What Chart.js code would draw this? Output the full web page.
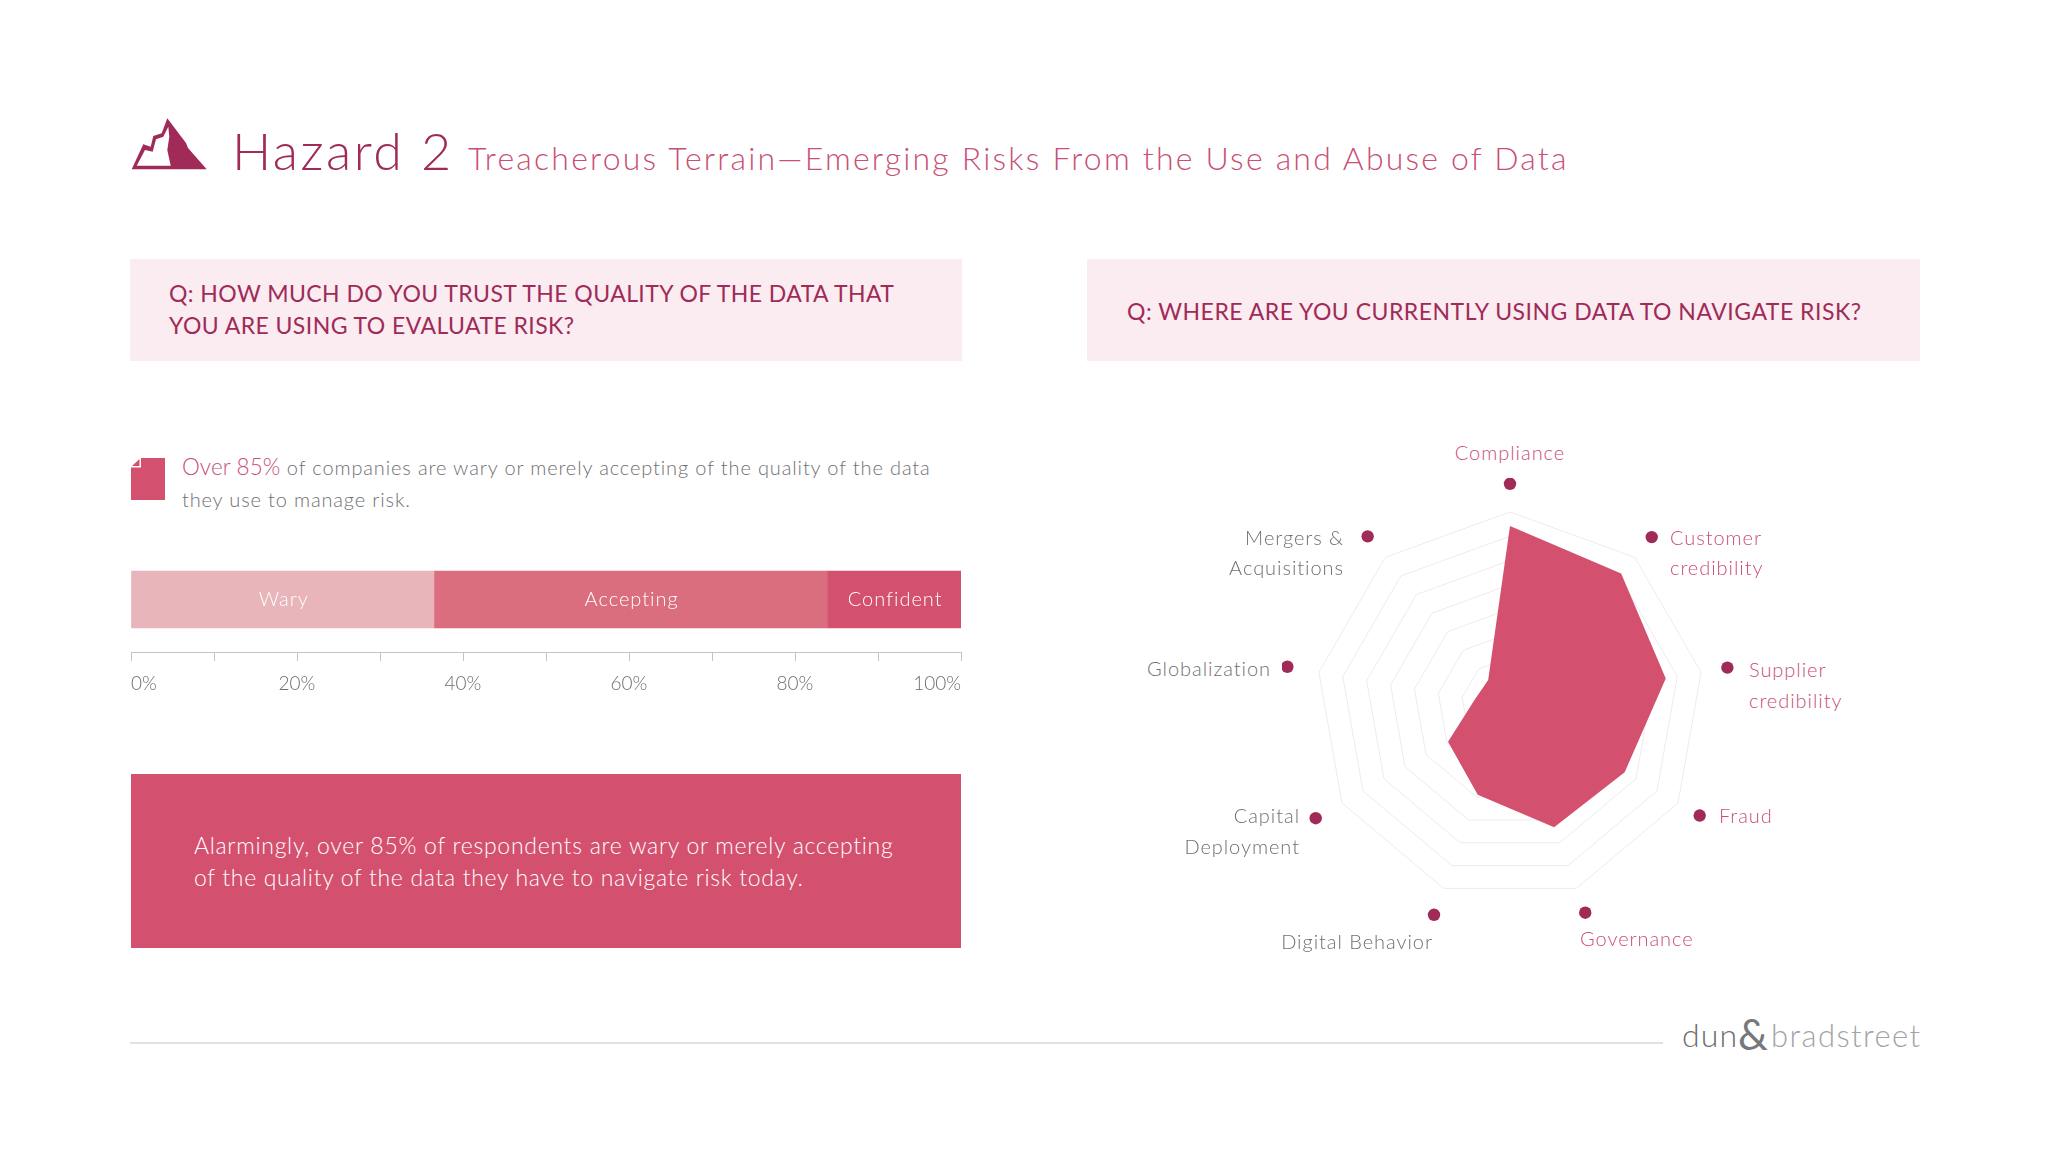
<!DOCTYPE html>
<html><head><meta charset="utf-8">
<script src="https://cdn.jsdelivr.net/npm/chart.js@4/dist/chart.umd.min.js"></script>
<style>
html,body{margin:0;padding:0;background:#fff;width:2048px;height:1152px;overflow:hidden;font-family:Lato,sans-serif}
.t{position:absolute;white-space:nowrap;line-height:1}
canvas{position:absolute}
.box{position:absolute}
</style></head><body>
<svg class="box" style="left:0;top:0" width="2048" height="1152">
<path fill-rule="evenodd" d="M131.700 169.300 L143.300 144.300 L150.700 146.700 L153.300 136 L161.700 133.300 L167.300 118.300 L186 143 L188 148 L206.700 169.300 Z M136.700 165.700 L170.700 165.700 L167.300 150 L169.300 136.700 L168.300 126.700 L163.300 136.700 L156 139.300 L152.700 151.700 L145 150 Z" fill="#a02a58"/>
<path d="M141 458 L165 458 L165 500 L131 500 L131 467.500 L141 467.500 Z" fill="#d4506f"/>
<path d="M132 466 L139.500 459 L139.500 466 Z" fill="#d4506f"/>
</svg>
<div class="t" style="left:232px;top:124px;font-size:52px;font-weight:300;color:#a02a58;letter-spacing:2.5px">Hazard 2</div>
<div class="t" style="left:468px;top:142px;font-size:32px;font-weight:300;color:#c94f75;letter-spacing:2.2px">Treacherous Terrain—Emerging Risks From the Use and Abuse of Data</div>

<div class="box" style="left:130px;top:259px;width:832px;height:102px;background:#faecf0"></div>
<div class="box" style="left:1087px;top:259px;width:833px;height:102px;background:#faecf0"></div>
<div class="t" style="left:169px;top:282px;font-size:23px;color:#a02a58;letter-spacing:.43px">Q: HOW MUCH DO YOU TRUST THE QUALITY OF THE DATA THAT</div>
<div class="t" style="left:169px;top:314px;font-size:23px;color:#a02a58;letter-spacing:.43px">YOU ARE USING TO EVALUATE RISK?</div>
<div class="t" style="left:1127px;top:300px;font-size:23px;color:#a02a58;letter-spacing:.5px">Q: WHERE ARE YOU CURRENTLY USING DATA TO NAVIGATE RISK?</div>

<div class="t" style="left:182px;top:456px;font-size:20px;font-weight:300;color:#6f6f74;letter-spacing:.87px"><span style="font-size:22.5px;color:#c94f75;letter-spacing:.1px">Over 85%</span> of companies are wary or merely accepting of the quality of the data</div>
<div class="t" style="left:182px;top:489px;font-size:20px;font-weight:300;color:#6f6f74;letter-spacing:.85px">they use to manage risk.</div>

<canvas id="bar" width="852" height="170" style="left:120px;top:540px;width:852px;height:170px"></canvas>

<div class="box" style="left:131px;top:774px;width:830px;height:174px;background:#d4506f"></div>
<div class="t" style="left:194px;top:834px;font-size:23px;font-weight:300;color:#fff;letter-spacing:.72px">Alarmingly, over 85% of respondents are wary or merely accepting</div>
<div class="t" style="left:194px;top:866px;font-size:23px;font-weight:300;color:#fff;letter-spacing:.66px">of the quality of the data they have to navigate risk today.</div>

<canvas id="radar" width="456" height="456" style="left:1282px;top:478px;width:456px;height:456px"></canvas>
<div id="labels"></div>

<div class="box" style="left:130px;top:1042px;width:1533px;height:2px;background:#e2e2e4"></div>
<div class="t" style="left:1682px;top:1019px;font-size:32px;font-weight:300;color:#6d6d72;letter-spacing:1.2px">dun</div>
<div class="t" style="left:1738px;top:1013px;font-size:42px;font-weight:400;color:#77777c">&amp;</div>
<div class="t" style="left:1771px;top:1020px;font-size:31px;font-weight:300;color:#a3a3a8;letter-spacing:1.4px">bradstreet</div>

<script>
// Stacked bar
const trustCategories = ['Wary', 'Accepting', 'Confident'];
const trustValues = [36.5, 47.4, 16.1];
const trustColors = ['#e8b5ba', '#da6e7e', '#d4506f'];
const trustRow = ['Trust'];

// Radar
const radarCategories = ['Compliance','Customer credibility','Supplier credibility','Fraud','Governance','Digital Behavior','Capital Deployment','Globalization','Mergers & Acquisitions'];
const radarValues = [7.42, 7.13, 6.52, 5.46, 5.32, 3.89, 2.95, 1.48, 1.40];
const radarMarkers = [9.16, 9.09, 9.1, 9.03, 9.07, 9.16, 9.25, 9.32, 9.13];
const radarRingMax = 8;

// Label layout: [lines, anchor, x, first-line centre y, colour, second-line centre y]
const PINK = '#c94f75', GREY = '#6f6f74';
const labelLayout = [
  [['Compliance'], 'c', 1510, 452, PINK],
  [['Customer','credibility'], 'l', 1670, 537, PINK, 567],
  [['Supplier','credibility'], 'l', 1749, 669, PINK, 700],
  [['Fraud'], 'l', 1719, 815, PINK],
  [['Governance'], 'l', 1580, 938, PINK],
  [['Digital Behavior'], 'r', 1433, 941, GREY],
  [['Capital','Deployment'], 'r', 1300, 815, GREY, 846],
  [['Globalization'], 'r', 1271, 668, GREY],
  [['Mergers &','Acquisitions'], 'r', 1344, 537, GREY, 567]
];
const host = document.getElementById('labels');
labelLayout.forEach(([lines, a, x, y, col, y2]) => {
  lines.forEach((s, i) => {
    const d = document.createElement('div');
    d.className = 't';
    d.textContent = s;
    d.style.fontSize = '20px';
    d.style.fontWeight = '300';
    d.style.letterSpacing = '.95px';
    d.style.color = col;
    d.style.top = ((i ? y2 : y) - 10) + 'px';
    if (a === 'l') d.style.left = x + 'px';
    if (a === 'r') d.style.right = (2048 - x) + 'px';
    if (a === 'c') { d.style.left = x + 'px'; d.style.transform = 'translateX(-50%)'; }
    host.appendChild(d);
  });
});

const barLabels = {
  id: 'barLabels',
  afterDatasetsDraw(chart) {
    const c = chart.ctx;
    c.save();
    c.font = '300 20px Lato';
    c.letterSpacing = '1px';
    c.fillStyle = '#fff';
    c.textAlign = 'center';
    c.textBaseline = 'middle';
    chart.data.datasets.forEach((ds, i) => {
      const b = chart.getDatasetMeta(i).data[0];
      c.fillText(ds.label, (b.base + b.x) / 2 + 1, b.y);
    });
    c.restore();
  }
};

new Chart(document.getElementById('bar'), {
  type: 'bar',
  data: {
    labels: trustRow,
    datasets: trustCategories.map((n, i) => ({
      label: n, data: [trustValues[i]], backgroundColor: trustColors[i],
      barThickness: 57, borderWidth: 0
    }))
  },
  options: {
    indexAxis: 'y', responsive: false, animation: false, devicePixelRatio: 1,
    layout: { padding: { left: 11, right: 10, top: 7, bottom: 0 } },
    plugins: { legend: { display: false }, tooltip: { enabled: false } },
    scales: {
      y: { stacked: true, display: false },
      x: {
        stacked: true, min: 0, max: 100,
        afterFit(s) { s.height = 58; },
        border: { color: '#c4c4c8', width: 1 },
        grid: { drawOnChartArea: false, drawTicks: true, tickLength: 9, color: '#c4c4c8' },
        ticks: {
          stepSize: 10, autoSkip: false, maxRotation: 0, align: 'inner', padding: 11,
          color: '#6f6f74', font: { family: 'Lato', size: 19, weight: '300' },
          callback: v => v % 20 === 0 ? v + '%' : ''
        }
      }
    }
  },
  plugins: [barLabels]
});

new Chart(document.getElementById('radar'), {
  type: 'radar',
  data: {
    labels: radarCategories,
    datasets: [
      { label: 'Usage', data: radarValues, fill: true, backgroundColor: '#d4506f', borderWidth: 0, pointRadius: 0, tension: 0 },
      { label: 'Markers', data: radarMarkers, fill: false, showLine: false, borderWidth: 0, pointRadius: 6.2, pointBorderWidth: 0, pointBackgroundColor: '#a02a58' }
    ]
  },
  options: {
    responsive: false, animation: false, devicePixelRatio: 1,
    layout: { padding: 0 },
    plugins: { legend: { display: false }, tooltip: { enabled: false } },
    scales: {
      r: {
        min: 0, max: 9.4, startAngle: 0,
        afterBuildTicks(s) { s.ticks = s.ticks.filter(t => t.value <= radarRingMax); },
        angleLines: { display: false },
        grid: { color: '#efe9f0', lineWidth: 1, circular: false },
        pointLabels: { display: false },
        ticks: { display: false, stepSize: 1 }
      }
    }
  }
});
</script>
</body></html>
